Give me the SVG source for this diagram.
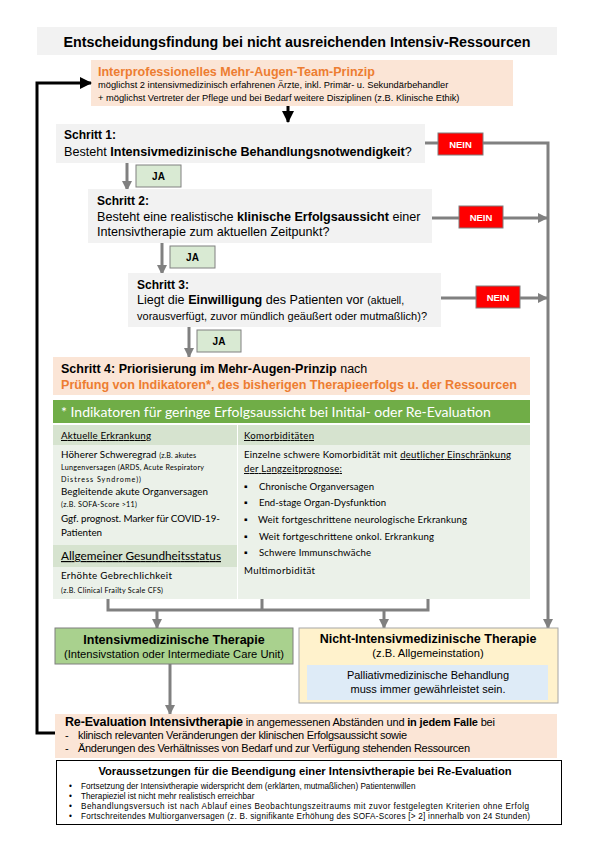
<svg xmlns="http://www.w3.org/2000/svg" width="595" height="842" viewBox="0 0 595 842">
<defs>
<style>
.a{font-family:"Liberation Sans",Arial,sans-serif;fill:#000}
.c{font-family:Lato,"Open Sans",sans-serif;fill:#000}
.b{font-weight:bold}
.or{fill:#ED7D31;font-weight:bold}
.gl{stroke:#808080;stroke-width:3;fill:none}
.bl{stroke:#000;stroke-width:3;fill:none}
.nein{fill:#FF0000;stroke:#7F7F7F;stroke-width:1}
.ja{fill:#D9EAD3;stroke:#808080;stroke-width:1}
.nt{font-family:"Liberation Sans",Arial,sans-serif;font-weight:bold;font-size:9.5px;fill:#fff}
.jt{font-family:"Liberation Sans",Arial,sans-serif;font-weight:bold;font-size:10px;fill:#000}
.grey{fill:#F2F2F2}
.peach{fill:#FBE5D6}
</style>
<marker id="ag" markerUnits="userSpaceOnUse" markerWidth="10" markerHeight="10" refX="9" refY="5" orient="auto"><path d="M0,0 L10,5 L0,10 z" fill="#808080"/></marker>
<marker id="ab" markerUnits="userSpaceOnUse" markerWidth="12" markerHeight="12" refX="11" refY="6" orient="auto"><path d="M0,0 L12,6 L0,12 z" fill="#000"/></marker>
</defs>
<rect width="595" height="842" fill="#fff"/>

<g id="title">
<rect x="37" y="27" width="520" height="28" class="grey"/>
<text x="297" y="46.5" class="a b" font-size="14.3" text-anchor="middle">Entscheidungsfindung bei nicht ausreichenden Intensiv-Ressourcen</text>
</g>

<g id="team">
<rect x="91" y="60" width="422" height="46" class="peach"/>
<text x="98" y="76" class="a or" font-size="12.5">Interprofessionelles Mehr-Augen-Team-Prinzip</text>
<text x="98" y="88" class="a" font-size="9.3">möglichst 2 intensivmedizinisch erfahrenen Ärzte, inkl. Primär- u. Sekundärbehandler</text>
<text x="98" y="101" class="a" font-size="9.3">+ möglichst Vertreter der Pflege und bei Bedarf weitere Disziplinen (z.B. Klinische Ethik)</text>
</g>

<g id="connectors">
<path d="M288,106 V122" class="bl" marker-end="url(#ab)"/>
<path d="M56,733 H37 V83 H91" class="bl" marker-end="url(#ab)"/>
<path d="M425,143 H438" class="gl"/>
<path d="M483,143 H548 V628" class="gl" marker-end="url(#ag)"/>
<path d="M432,218 H459" class="gl"/>
<path d="M503,218 H547" class="gl" marker-end="url(#ag)"/>
<path d="M441,298 H476" class="gl"/>
<path d="M520,298 H547" class="gl" marker-end="url(#ag)"/>
<path d="M127,163 V190" class="gl" marker-end="url(#ag)"/>
<path d="M162,243 V274" class="gl" marker-end="url(#ag)"/>
<path d="M189,327 V357" class="gl" marker-end="url(#ag)"/>
<path d="M108,598 V610 H428 V598 M262,598 V610" class="gl"/>
<path d="M157,610 V628" class="gl" marker-end="url(#ag)"/>
<path d="M384,610 V628" class="gl" marker-end="url(#ag)"/>
<path d="M170,664 V714" class="gl" marker-end="url(#ag)"/>
</g>

<g id="schritt1">
<rect x="56" y="124" width="369" height="39" class="grey"/>
<text x="64" y="139" class="a b" font-size="12">Schritt 1:</text>
<text x="64" y="156" class="a" font-size="12.6">Besteht <tspan class="b">Intensivmedizinische Behandlungsnotwendigkeit</tspan>?</text>
</g>
<g id="nein1"><rect x="438" y="133" width="45" height="22" class="nein"/><text x="460.5" y="147.5" class="nt" text-anchor="middle">NEIN</text></g>
<g id="ja1"><rect x="136" y="165" width="45" height="22" class="ja"/><text x="158.5" y="179.5" class="jt" text-anchor="middle">JA</text></g>

<g id="schritt2">
<rect x="88" y="189" width="344" height="54" class="grey"/>
<text x="97" y="205" class="a b" font-size="12">Schritt 2:</text>
<text x="97" y="221" class="a" font-size="12.6">Besteht eine realistische <tspan class="b">klinische Erfolgsaussicht</tspan> einer</text>
<text x="97" y="236" class="a" font-size="12.6">Intensivtherapie zum aktuellen Zeitpunkt?</text>
</g>
<g id="nein2"><rect x="459" y="206" width="44" height="22" class="nein"/><text x="481" y="220.5" class="nt" text-anchor="middle">NEIN</text></g>
<g id="ja2"><rect x="170" y="246" width="45" height="22" class="ja"/><text x="192.5" y="260.5" class="jt" text-anchor="middle">JA</text></g>

<g id="schritt3">
<rect x="128" y="273" width="313" height="54" class="grey"/>
<text x="137" y="289" class="a b" font-size="12">Schritt 3:</text>
<text x="137" y="304" class="a" font-size="12.6">Liegt die <tspan class="b">Einwilligung</tspan> des Patienten vor <tspan font-size="10.5">(aktuell,</tspan></text>
<text x="137" y="320" class="a" font-size="11" textLength="290" lengthAdjust="spacing">vorausverfügt, zuvor mündlich geäußert oder mutmaßlich)?</text>
</g>
<g id="nein3"><rect x="476" y="286" width="44" height="22" class="nein"/><text x="498" y="300.5" class="nt" text-anchor="middle">NEIN</text></g>
<g id="ja3"><rect x="197" y="330" width="44" height="22" class="ja"/><text x="219" y="344.5" class="jt" text-anchor="middle">JA</text></g>

<g id="schritt4">
<rect x="53" y="357" width="477" height="38" class="peach"/>
<text x="61" y="373" class="a" font-size="12.5"><tspan class="b">Schritt 4: Priorisierung im Mehr-Augen-Prinzip</tspan> nach</text>
<text x="61" y="389" class="a or" font-size="12.6" textLength="456" lengthAdjust="spacing">Prüfung von Indikatoren*, des bisherigen Therapieerfolgs u. der Ressourcen</text>
</g>

<g id="indikatoren">
<rect x="53" y="400" width="477" height="23" fill="#70AD47"/>
<text x="61" y="417" class="c" font-size="14" style="fill:#fff">* Indikatoren für geringe Erfolgsaussicht bei Initial- oder Re-Evaluation</text>
<rect x="53" y="425" width="184" height="174" fill="#EBF1E9"/>
<rect x="238" y="425" width="292" height="174" fill="#EBF1E9"/>
<rect x="53" y="425" width="184" height="20" fill="#D6E3CF"/>
<rect x="238" y="425" width="292" height="20" fill="#D6E3CF"/>
<rect x="53" y="545" width="184" height="22" fill="#D6E3CF"/>
<text x="61" y="439" class="c" font-size="9.8" text-decoration="underline" textLength="90" lengthAdjust="spacing">Aktuelle Erkrankung</text>
<text x="61" y="458" class="c" font-size="9.8" textLength="135" lengthAdjust="spacing">Höherer Schweregrad <tspan font-size="7.2">(z.B. akutes</tspan></text>
<text x="61" y="470" class="c" font-size="7.2" textLength="143" lengthAdjust="spacing">Lungenversagen (ARDS, Acute Respiratory</text>
<text x="61" y="482" class="c" font-size="7.2" textLength="80" lengthAdjust="spacing">Distress Syndrome))</text>
<text x="61" y="495" class="c" font-size="9.8" textLength="147" lengthAdjust="spacing">Begleitende akute Organversagen</text>
<text x="61" y="507" class="c" font-size="7.2" textLength="76" lengthAdjust="spacing">(z.B. SOFA-Score &gt;11)</text>
<text x="61" y="522" class="c" font-size="9.8" textLength="159" lengthAdjust="spacing">Ggf. prognost. Marker für COVID-19-</text>
<text x="61" y="536" class="c" font-size="9.8" textLength="41" lengthAdjust="spacing">Patienten</text>
<text x="61" y="560" class="c" font-size="11.8" text-decoration="underline" textLength="160" lengthAdjust="spacing">Allgemeiner Gesundheitsstatus</text>
<text x="61" y="579" class="c" font-size="9.8" textLength="111" lengthAdjust="spacing">Erhöhte Gebrechlichkeit</text>
<text x="61" y="593" class="c" font-size="7.2" textLength="102" lengthAdjust="spacing">(z.B. Clinical Frailty Scale CFS)</text>
<text x="244" y="439" class="c" font-size="9.6" text-decoration="underline" textLength="70" lengthAdjust="spacing">Komorbiditäten</text>
<text x="244" y="458" class="c" font-size="9.6" textLength="267" lengthAdjust="spacing">Einzelne schwere Komorbidität mit <tspan text-decoration="underline">deutlicher Einschränkung</tspan></text>
<text x="244" y="472" class="c" font-size="9.6" text-decoration="underline" textLength="98" lengthAdjust="spacing">der Langzeitprognose:</text>
<g class="c" font-size="9.6">
<text x="244" y="490">▪</text><text x="259" y="490" textLength="115" lengthAdjust="spacing">Chronische Organversagen</text>
<text x="244" y="506">▪</text><text x="259" y="506" textLength="127" lengthAdjust="spacing">End-stage Organ-Dysfunktion</text>
<text x="244" y="523">▪</text><text x="258" y="523" textLength="209" lengthAdjust="spacing">Weit fortgeschrittene neurologische Erkrankung</text>
<text x="244" y="540">▪</text><text x="259" y="540" textLength="175" lengthAdjust="spacing">Weit fortgeschrittene onkol. Erkrankung</text>
<text x="244" y="556">▪</text><text x="259" y="556" textLength="112" lengthAdjust="spacing">Schwere Immunschwäche</text>
<text x="244" y="574" textLength="71" lengthAdjust="spacing">Multimorbidität</text>
</g>
</g>

<g id="intensiv">
<rect x="55" y="628" width="238" height="36" fill="#A9D18E" stroke="#7F7F7F" stroke-width="1"/>
<text x="174" y="644" class="a b" font-size="12.5" text-anchor="middle">Intensivmedizinische Therapie</text>
<text x="174" y="658" class="a" font-size="11.2" text-anchor="middle">(Intensivstation oder Intermediate Care Unit)</text>
</g>

<g id="nichtintensiv">
<rect x="299" y="628" width="259" height="75" fill="#FFF2CC" stroke="#A6A6A6" stroke-width="1"/>
<text x="428" y="643" class="a b" font-size="12.5" text-anchor="middle">Nicht-Intensivmedizinische Therapie</text>
<text x="428" y="657" class="a" font-size="11.2" text-anchor="middle">(z.B. Allgemeinstation)</text>
<rect x="307" y="665" width="241" height="35" fill="#DEEBF7"/>
<text x="428" y="679" class="a" font-size="11" text-anchor="middle" textLength="162" lengthAdjust="spacing">Palliativmedizinische Behandlung</text>
<text x="428" y="693" class="a" font-size="11" text-anchor="middle" textLength="155" lengthAdjust="spacing">muss immer gewährleistet sein.</text>
</g>

<g id="reevaluation">
<rect x="55" y="714" width="502" height="44" class="peach"/>
<text x="65" y="726" class="a" font-size="11" textLength="430" lengthAdjust="spacing"><tspan class="b" font-size="12.5">Re-Evaluation Intensivtherapie</tspan> in angemessenen Abständen und <tspan class="b">in jedem Falle</tspan> bei</text>
<text x="65" y="739" class="a" font-size="11">-</text>
<text x="78" y="739" class="a" font-size="11" textLength="329" lengthAdjust="spacing">klinisch relevanten Veränderungen der klinischen Erfolgsaussicht sowie</text>
<text x="65" y="752" class="a" font-size="11">-</text>
<text x="78" y="752" class="a" font-size="11" textLength="392" lengthAdjust="spacing">Änderungen des Verhältnisses von Bedarf und zur Verfügung stehenden Ressourcen</text>
</g>

<g id="beendigung">
<rect x="56.5" y="760.5" width="505" height="64" fill="#fff" stroke="#000" stroke-width="1"/>
<text x="305" y="775" class="a b" font-size="11.2" text-anchor="middle">Voraussetzungen für die Beendigung einer Intensivtherapie bei Re-Evaluation</text>
<g class="a" font-size="8.2">
<text x="69" y="789">•</text><text x="81" y="789">Fortsetzung der Intensivtherapie widerspricht dem (erklärten, mutmaßlichen) Patientenwillen</text>
<text x="69" y="799">•</text><text x="81" y="799">Therapieziel ist nicht mehr realistisch erreichbar</text>
<text x="69" y="809">•</text><text x="81" y="809" textLength="448" lengthAdjust="spacing">Behandlungsversuch ist nach Ablauf eines Beobachtungszeitraums mit zuvor festgelegten Kriterien ohne Erfolg</text>
<text x="69" y="819">•</text><text x="81" y="819" textLength="449" lengthAdjust="spacing">Fortschreitendes Multiorganversagen (z. B. signifikante Erhöhung des SOFA-Scores [&gt; 2] innerhalb von 24 Stunden)</text>
</g>
</g>
</svg>
